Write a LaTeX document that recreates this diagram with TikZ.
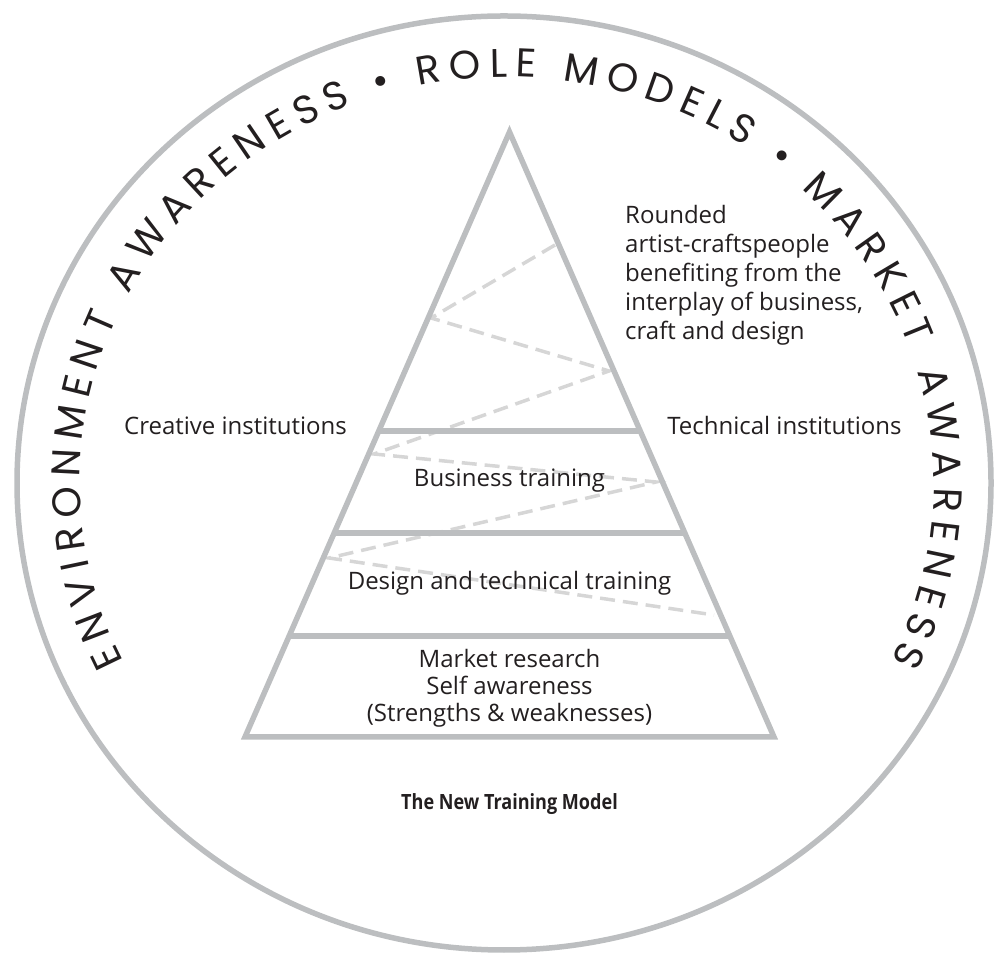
\documentclass[tikz,border=0pt]{standalone}
\usepackage{fontspec}
\setmainfont{Open Sans}
\newfontfamily\ringfont{Poppins}
\newfontfamily\titlefont[FakeStretch=0.86]{Open Sans}
\usetikzlibrary{decorations.text,calc}
\definecolor{framegrey}{HTML}{BCBEC0}
\definecolor{dashgrey}{HTML}{D6D6D6}
\definecolor{inkblack}{HTML}{231F20}
\begin{document}
\begin{tikzpicture}[x=1pt,y=1pt,
  frame/.style={draw=framegrey,line width=5.5pt},
  zig/.style={draw=dashgrey,line width=3.5pt,dash pattern=on 15pt off 8pt},
  lbl/.style={font=\fontsize{24}{29}\selectfont,inner sep=0pt,text=inkblack},
]
\useasboundingbox (0,0) rectangle (1003,955);
% outer ring
\draw[frame] (504,472) ellipse [x radius=487,y radius=467];
% ring text
\path[decorate,decoration={text along path,
  text={|\ringfont\fontsize{40}{40}\selectfont\color{inkblack}|ENVIRONMENT AWARENESS • ROLE MODELS • MARKET AWARENESS},
  text align={fit to path}}]
  (507,472) ++(206:427 and 406) arc[start angle=206,end angle=-26,x radius=427,y radius=406];
% pyramid points
\coordinate (apex) at (509.5,823);
\coordinate (bl) at (245,218);
\coordinate (br) at (774,218);
% zigzag
\coordinate (z1) at (555,710);
\coordinate (z2) at (431,637);
\coordinate (z3) at (609,584);
\coordinate (z4) at (374,501);
\coordinate (z5) at (656,473);
\coordinate (z6) at (329,397);
\coordinate (z7) at (714,340);
\draw[zig] (z1) -- (z2) -- (z3) -- (z4) -- (z5) -- (z6) -- (z7);
% pyramid outline
\draw[frame,line join=miter] (apex) -- (br) -- (bl) -- cycle;
\coordinate (d1l) at ($(apex)!0.494!(bl)$);
\coordinate (d1r) at ($(apex)!0.494!(br)$);
\coordinate (d2l) at ($(apex)!0.663!(bl)$);
\coordinate (d2r) at ($(apex)!0.663!(br)$);
\coordinate (d3l) at ($(apex)!0.833!(bl)$);
\coordinate (d3r) at ($(apex)!0.833!(br)$);
\draw[frame] (d1l) -- (d1r);
\draw[frame] (d2l) -- (d2r);
\draw[frame] (d3l) -- (d3r);
% labels
\node[lbl,anchor=north west,align=left] (top) at (625,750)
  {Rounded\\artist-craftspeople\\benefiting from the\\interplay of business,\\craft and design};
\node[lbl,anchor=base] (creative) at (235.5,520) {Creative institutions};
\node[lbl,anchor=base] (technical) at (784.5,520) {Technical institutions};
\node[lbl,anchor=base] (business) at (509.5,468) {Business training};
\node[lbl,anchor=base] (design) at (509.5,365) {Design and technical training};
\node[lbl,anchor=north,align=center,font=\fontsize{24}{27}\selectfont] (market) at (509.5,306)
  {Market research\\Self awareness\\(Strengths \& weaknesses)};
\node[lbl,anchor=base,font=\titlefont\fontsize{21}{24}\selectfont\bfseries] (title) at (509.5,145) {The New Training Model};
\end{tikzpicture}
\end{document}
